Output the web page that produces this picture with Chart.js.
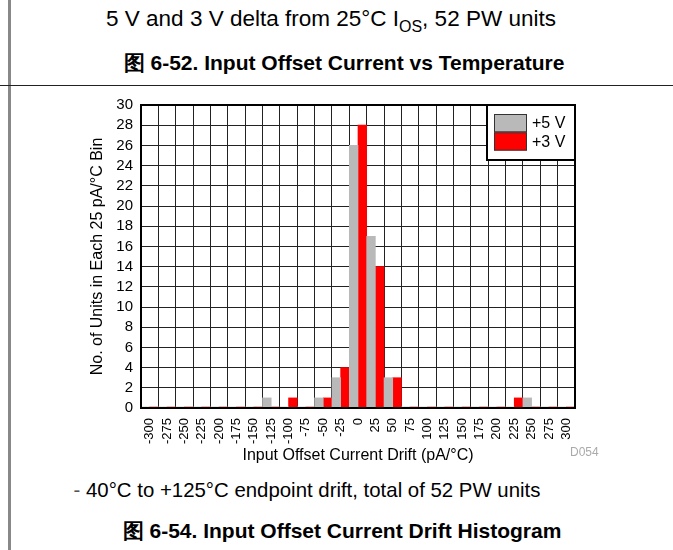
<!DOCTYPE html>
<html>
<head>
<meta charset="utf-8">
<script src="https://cdn.jsdelivr.net/npm/chart.js@4.4.1/dist/chart.umd.min.js"></script>
<style>
  body { margin: 0; background: #fff; font-family: "Liberation Sans", Arial, sans-serif; }
  #page { position: relative; width: 673px; height: 550px; overflow: hidden; }
  .txt { position: absolute; white-space: nowrap; transform: translateX(-50%); color: #000; line-height: 1.2; }
  .fig { font-size: 21px; font-weight: bold; }
  #sideRule { position: absolute; left: 8px; top: 0; width: 3px; height: 550px; background: #888; }
  #hRule { position: absolute; left: 0; top: 85px; width: 673px; height: 1px; background: #222; }
  #code { position: absolute; left: 570px; top: 445px; font-size: 12px; color: #aaa; }
  #histo { position: absolute; left: 0; top: 88px; }
</style>
</head>
<body>
<div id="page">
  <div id="sideRule"></div>
  <div class="txt" style="left:331px; top:5px; font-size:22.5px;">5 V and 3 V delta from 25°C I<sub style="font-size:16px">OS</sub>, 52 PW units</div>
  <div class="txt fig" style="left:344px; top:50px;">图 6-52. Input Offset Current vs Temperature</div>
  <div id="hRule"></div>
  <canvas id="histo" width="673" height="390"></canvas>
  <div id="code">D054</div>
  <div class="txt" style="left:307px; top:478px; font-size:20.4px;"><span style="color:#555">-</span> 40°C to +125°C endpoint drift, total of 52 PW units</div>
  <div class="txt fig" style="left:342px; top:518px;">图 6-54. Input Offset Current Drift Histogram</div>
</div>
<script>
// bins of 25 pA/°C, labelled by their value
const bins = ['-300', '-275', '-250', '-225', '-200', '-175', '-150', '-125', '-100', '-75', '-50', '-25', '0',
              '25', '50', '75', '100', '125', '150', '175', '200', '225', '250', '275', '300'];
const units5V = [0, 0, 0, 0, 0, 0, 0, 1, 0, 0, 1, 3, 26, 17, 3, 0, 0, 0, 0, 0, 0, 0, 1, 0, 0];
const units3V = [0, 0, 0, 0, 0, 0, 0, 0, 1, 0, 1, 4, 28, 14, 3, 0, 0, 0, 0, 0, 0, 1, 0, 0, 0];
const seriesNames = ['+5 V', '+3 V'];
const seriesColors = ['#b9b9b9', '#ff0000'];

const FONT = '"Liberation Sans", Arial, sans-serif';

// frame around the plot plus the boxed legend in the upper right corner
const frameAndLegend = {
    id: 'frameAndLegend',
    afterDraw(chart) {
        const ctx = chart.ctx;
        const a = chart.chartArea;
        ctx.save();
        ctx.strokeStyle = '#000';
        ctx.lineWidth = 2;
        ctx.strokeRect(a.left, a.top, a.right - a.left, a.bottom - a.top);

        const boxW = 88, boxH = 55;
        const bx = a.right - boxW, by = a.top;
        ctx.fillStyle = '#fff';
        ctx.fillRect(bx, by, boxW, boxH);
        ctx.strokeRect(bx, by, boxW, boxH);

        ctx.font = '16px ' + FONT;
        ctx.textBaseline = 'middle';
        ctx.lineWidth = 1;
        chart.data.datasets.forEach((ds, i) => {
            const sy = by + 9 + i * 18.3;
            ctx.fillStyle = ds.backgroundColor;
            ctx.fillRect(bx + 7, sy, 33, 18.3);
            ctx.strokeStyle = '#333';
            ctx.strokeRect(bx + 7.5, sy + 0.5, 32, 17.3);
            ctx.fillStyle = '#000';
            ctx.fillText(ds.label, bx + 45, sy + 10);
        });
        ctx.restore();
    }
};

const ctx = document.getElementById('histo').getContext('2d');
new Chart(ctx, {
    type: 'bar',
    data: {
        labels: bins,
        datasets: [
            { label: seriesNames[0], data: units5V, backgroundColor: seriesColors[0], minBarLength: 1 },
            { label: seriesNames[1], data: units3V, backgroundColor: seriesColors[1], minBarLength: 1 }
        ]
    },
    options: {
        responsive: false,
        devicePixelRatio: 1,
        animation: false,
        layout: { padding: { left: 80, right: 98, top: 15, bottom: 0 } },
        datasets: { bar: { categoryPercentage: 1.0, barPercentage: 1.0 } },
        plugins: {
            legend: { display: false },
            tooltip: { enabled: false }
        },
        scales: {
            x: {
                afterFit(scale) { scale.height = 70; },
                grid: { color: '#222', lineWidth: 1, tickLength: 0 },
                border: { display: true, color: '#000', width: 2 },
                ticks: {
                    autoSkip: false,
                    minRotation: 90,
                    maxRotation: 90,
                    padding: 10,
                    color: '#000',
                    font: { family: FONT, size: 13 }
                },
                title: {
                    display: true,
                    text: 'Input Offset Current Drift (pA/°C)',
                    color: '#000',
                    padding: { top: 0, bottom: 13 },
                    font: { family: FONT, size: 16 }
                }
            },
            y: {
                min: 0,
                max: 30,
                afterFit(scale) { scale.width = 61; },
                grid: { color: '#222', lineWidth: 1, tickLength: 0 },
                border: { display: true, color: '#000', width: 2 },
                ticks: {
                    autoSkip: false,
                    stepSize: 2,
                    padding: 8,
                    color: '#000',
                    font: { family: FONT, size: 15 }
                },
                title: {
                    display: true,
                    text: 'No. of Units in Each 25 pA/°C Bin',
                    color: '#000',
                    padding: { top: 8, bottom: 0 },
                    font: { family: FONT, size: 16 }
                }
            }
        }
    },
    plugins: [frameAndLegend]
});
</script>
</body>
</html>
